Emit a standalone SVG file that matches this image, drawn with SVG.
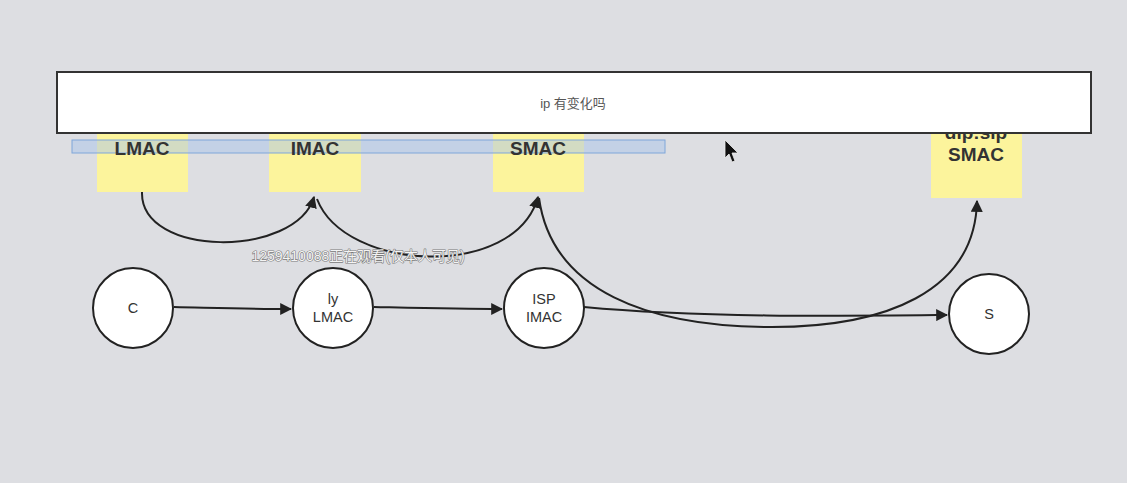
<svg xmlns="http://www.w3.org/2000/svg" width="1127" height="483" viewBox="0 0 1127 483">
  <style>
    .note { fill: #fcf49c; stroke: none; }
    .noteText { font-family: "Liberation Sans", "Noto Sans", sans-serif; font-size: 19px; font-weight: bold; fill: #333; text-anchor: middle; }
    .node { fill: #ffffff; stroke: #222; stroke-width: 2; }
    .nodeText { font-family: "Liberation Sans", "Noto Sans", sans-serif; font-size: 14.5px; fill: #333; text-anchor: middle; }
    .edge { fill: none; stroke: #222; stroke-width: 2; }
  </style>
  <defs>
    <marker id="arrow" viewBox="0 0 10 10" refX="9" refY="5" markerWidth="6" markerHeight="6" orient="auto" markerUnits="strokeWidth">
      <path d="M0,0 L10,5 L0,10 z" fill="#222"/>
    </marker>
  </defs>

  <rect x="0" y="0" width="1127" height="483" fill="#dddee2"/>

  <!-- yellow notes (boxes) -->
  <g id="note-boxes">
    <rect class="note" x="97" y="120" width="91" height="72"/>
    <rect class="note" x="269" y="120" width="92" height="72"/>
    <rect class="note" x="493" y="120" width="91" height="72"/>
    <rect class="note" x="931" y="120" width="91" height="78"/>
  </g>

  <!-- blue selection bar -->
  <rect id="selection" x="72" y="140" width="593" height="13" fill="#a9c4ea" fill-opacity="0.5" stroke="#7fa6da" stroke-width="1"/>

  <!-- note labels -->
  <g id="note-lmac"><text class="noteText" x="142" y="155">LMAC</text></g>
  <g id="note-imac"><text class="noteText" x="315" y="155">IMAC</text></g>
  <g id="note-smac"><text class="noteText" x="538" y="155">SMAC</text></g>
  <g id="note-smac2">
    <text class="noteText" x="976" y="139">dip:sip</text>
    <text class="noteText" x="976" y="161">SMAC</text>
  </g>

  <!-- top banner -->
  <g id="banner">
    <rect x="57" y="72" width="1034" height="61" fill="#ffffff" stroke="#333" stroke-width="2"/>
    <text x="573" y="108" font-family="Liberation Sans, Noto Sans CJK SC, sans-serif" font-size="13" fill="#555" text-anchor="middle">ip 有变化吗</text>
  </g>

  <!-- connectors -->
  <g id="connectors">
    <path class="edge" d="M142,192 C140,258 296,258 314,197" marker-end="url(#arrow)"/>
    <path class="edge" d="M317,199 C345,272 515,280 538,197" marker-end="url(#arrow)"/>
    <path class="edge" d="M539,198 C552,292 650,326 767,327 C885,328 975,292 977,201" marker-end="url(#arrow)"/>
    <path class="edge" d="M174,307 C220,308 250,309 291,309" marker-end="url(#arrow)"/>
    <path class="edge" d="M374,307 C420,308 460,309 502,309" marker-end="url(#arrow)"/>
    <path class="edge" d="M584,307 C700,318 850,316 947,315" marker-end="url(#arrow)"/>
  </g>

  <!-- circle nodes -->
  <g id="node-c">
    <circle class="node" cx="133" cy="308" r="40"/>
    <text class="nodeText" x="133" y="313">C</text>
  </g>
  <g id="node-ly">
    <circle class="node" cx="333" cy="308" r="40"/>
    <text class="nodeText" x="333" y="304">ly</text>
    <text class="nodeText" x="333" y="322">LMAC</text>
  </g>
  <g id="node-isp">
    <circle class="node" cx="544" cy="308" r="40"/>
    <text class="nodeText" x="544" y="304">ISP</text>
    <text class="nodeText" x="544" y="322">IMAC</text>
  </g>
  <g id="node-s">
    <circle class="node" cx="989" cy="314" r="40"/>
    <text class="nodeText" x="989" y="319">S</text>
  </g>

  <!-- watermark -->
  <text x="358" y="261" font-family="Liberation Sans, Noto Sans CJK SC, sans-serif" font-size="14" fill="#f4f4f4" stroke="#7a7a7a" stroke-width="1.2" stroke-linejoin="round" paint-order="stroke" text-anchor="middle">1259410088正在观看(仅本人可见)</text>

  <!-- mouse cursor -->
  <path d="M725,140 L725,158 L729,154 L732,162 L735,161 L732,153 L738,153 Z" fill="#111" stroke="#eee" stroke-width="0.8"/>
</svg>
